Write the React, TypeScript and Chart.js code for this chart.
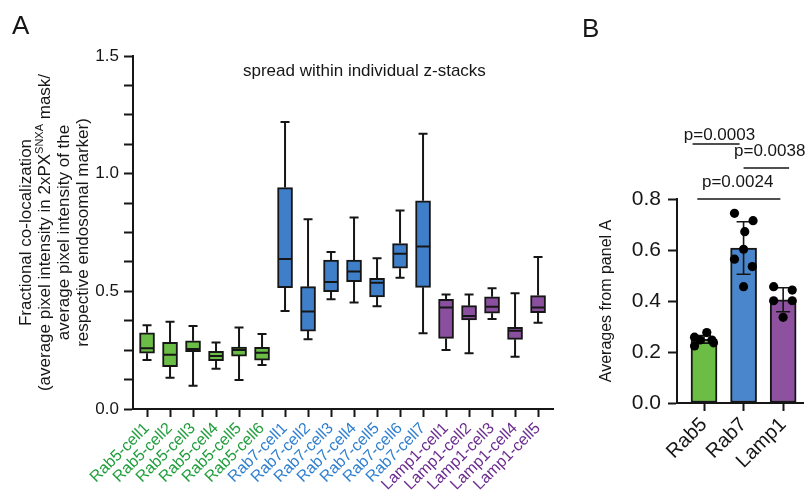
import React, { useEffect, useRef } from 'react';
import { Chart, registerables } from 'chart.js';
Chart.register(...registerables);

const FONT = '"Liberation Sans", Arial, Helvetica, sans-serif';
const INK = '#161616';

// ---------- Panel A data ----------
const cellLabels = [
  'Rab5-cell1', 'Rab5-cell2', 'Rab5-cell3', 'Rab5-cell4', 'Rab5-cell5', 'Rab5-cell6',
  'Rab7-cell1', 'Rab7-cell2', 'Rab7-cell3', 'Rab7-cell4', 'Rab7-cell5', 'Rab7-cell6', 'Rab7-cell7',
  'Lamp1-cell1', 'Lamp1-cell2', 'Lamp1-cell3', 'Lamp1-cell4', 'Lamp1-cell5',
];
const cellGroup = [
  'Rab5', 'Rab5', 'Rab5', 'Rab5', 'Rab5', 'Rab5',
  'Rab7', 'Rab7', 'Rab7', 'Rab7', 'Rab7', 'Rab7', 'Rab7',
  'Lamp1', 'Lamp1', 'Lamp1', 'Lamp1', 'Lamp1',
];
const whiskerMin = [0.208, 0.133, 0.099, 0.171, 0.123, 0.187, 0.416, 0.296, 0.466, 0.453, 0.437, 0.558, 0.322, 0.251, 0.237, 0.382, 0.222, 0.367];
const boxQ1 = [0.237, 0.180, 0.244, 0.205, 0.225, 0.208, 0.516, 0.331, 0.499, 0.541, 0.476, 0.598, 0.517, 0.300, 0.378, 0.407, 0.296, 0.409];
const boxMedian = [0.258, 0.231, 0.255, 0.225, 0.251, 0.239, 0.637, 0.414, 0.540, 0.584, 0.537, 0.660, 0.690, 0.431, 0.395, 0.435, 0.333, 0.431];
const boxQ3 = [0.324, 0.283, 0.290, 0.245, 0.263, 0.262, 0.941, 0.520, 0.633, 0.633, 0.555, 0.703, 0.885, 0.466, 0.439, 0.477, 0.347, 0.482];
const whiskerMax = [0.356, 0.371, 0.353, 0.283, 0.346, 0.319, 1.220, 0.806, 0.667, 0.814, 0.641, 0.843, 1.170, 0.487, 0.487, 0.513, 0.492, 0.646];
const yTicksA = [0, 0.125, 0.25, 0.375, 0.5, 0.625, 0.75, 0.875, 1.0, 1.125, 1.25, 1.375, 1.5];
const panelATitle = 'spread within individual z-stacks';
const yTitleA1 = 'Fractional co-localization';
const yTitleA2pre = '(average pixel intensity in 2xPX';
const yTitleA2sup = 'SNXA';
const yTitleA2post = ' mask/';
const yTitleA3 = 'average pixel intensity of the';
const yTitleA4 = 'respective endosomal marker)';

// ---------- Panel B data ----------
const groupLabels = ['Rab5', 'Rab7', 'Lamp1'];
const groupMeans = [0.250, 0.608, 0.405];
const groupSD = [0.015, 0.103, 0.047];
const rab5Dots = [0.258, 0.224, 0.247, 0.276, 0.247, 0.236];
const rab5Jitter = [-0.24, -0.24, -0.1, 0.07, 0.2, 0.24];
const rab7Dots = [0.744, 0.715, 0.672, 0.603, 0.564, 0.535, 0.456];
const rab7Jitter = [-0.23, 0.24, 0.03, 0.0, -0.23, 0.22, 0.0];
const lamp1Dots = [0.456, 0.443, 0.401, 0.401, 0.336];
const lamp1Jitter = [-0.24, 0.23, -0.24, 0.23, 0.0];
const yTicksB = [0, 0.2, 0.4, 0.6, 0.8];
const yTitleB = 'Averages from panel A';
const compLabels = ['p=0.0003', 'p=0.0038', 'p=0.0024'];
const compFromX = [-0.29, 1.0, -0.17];
const compToX = [0.9, 2.15, 1.93];
const compLineY = [1.016, 0.922, 0.8];
const compTextX = [0.39, 1.66, 0.85];
const compTextY = [1.031, 0.969, 0.847];

const fillColor: Record<string, string> = { Rab5: '#6abd45', Rab7: '#3f7ec8', Lamp1: '#8b4f9f' };
const barColor: Record<string, string> = { Rab5: '#6cbd45', Rab7: '#4a86cc', Lamp1: '#8d51a0' };
const textColor: Record<string, string> = { Rab5: '#1f9e3b', Rab7: '#2f7fd0', Lamp1: '#6b2d90' };

const boxPlugin = {
  id: 'boxExtras',
  afterDatasetsDraw(chart: any) {
    const ctx = chart.ctx;
    const xs = chart.scales.x;
    const ys = chart.scales.y;
    ctx.save();
    ctx.strokeStyle = INK;
    ctx.lineWidth = 2;
    for (let i = 0; i < cellLabels.length; i++) {
      const x = xs.getPixelForValue(i);
      const yMax = ys.getPixelForValue(whiskerMax[i]);
      const yQ3 = ys.getPixelForValue(boxQ3[i]);
      const yQ1 = ys.getPixelForValue(boxQ1[i]);
      const yMin = ys.getPixelForValue(whiskerMin[i]);
      const yMed = ys.getPixelForValue(boxMedian[i]);
      ctx.beginPath();
      ctx.moveTo(x, yQ3); ctx.lineTo(x, yMax);
      ctx.moveTo(x - 4.5, yMax); ctx.lineTo(x + 4.5, yMax);
      ctx.moveTo(x, yQ1); ctx.lineTo(x, yMin);
      ctx.moveTo(x - 4.5, yMin); ctx.lineTo(x + 4.5, yMin);
      ctx.moveTo(x - 7, yMed); ctx.lineTo(x + 7, yMed);
      ctx.stroke();
    }
    // title inside plot
    ctx.fillStyle = INK;
    ctx.font = `17px ${FONT}`;
    ctx.textAlign = 'left';
    ctx.textBaseline = 'alphabetic';
    ctx.fillText(panelATitle, 243, 76);
    // panel letter
    ctx.font = `26px ${FONT}`;
    ctx.fillText('A', 12, 34);
    // y title
    const cy = (chart.chartArea.top + chart.chartArea.bottom) / 2;
    const main = `17px ${FONT}`;
    const sup = `11px ${FONT}`;
    const drawLine = (bx: number, txt: string) => {
      ctx.save();
      ctx.translate(bx, cy);
      ctx.rotate(-Math.PI / 2);
      ctx.font = main;
      ctx.textAlign = 'center';
      ctx.fillText(txt, 0, 0);
      ctx.restore();
    };
    drawLine(31, yTitleA1);
    ctx.save();
    ctx.translate(50, cy);
    ctx.rotate(-Math.PI / 2);
    ctx.textAlign = 'left';
    ctx.font = main;
    const w1 = ctx.measureText(yTitleA2pre).width;
    const w3 = ctx.measureText(yTitleA2post).width;
    ctx.font = sup;
    const w2 = ctx.measureText(yTitleA2sup).width;
    let sx = -(w1 + w2 + w3) / 2;
    ctx.font = main;
    ctx.fillText(yTitleA2pre, sx, 0);
    sx += w1;
    ctx.font = sup;
    ctx.fillText(yTitleA2sup, sx, -7);
    sx += w2;
    ctx.font = main;
    ctx.fillText(yTitleA2post, sx, 0);
    ctx.restore();
    drawLine(69, yTitleA3);
    drawLine(88, yTitleA4);
    ctx.restore();
  },
};

const barExtras = {
  id: 'barExtras',
  afterDatasetDraw(chart: any, args: any) {
    if (args.index !== 0) return;
    const ctx = chart.ctx;
    const xs = chart.scales.x;
    const ys = chart.scales.y;
    ctx.save();
    ctx.strokeStyle = INK;
    ctx.lineWidth = 1.6;
    for (let i = 0; i < groupLabels.length; i++) {
      const x = xs.getPixelForValue(i);
      const yt = ys.getPixelForValue(groupMeans[i] + groupSD[i]);
      const yb = ys.getPixelForValue(groupMeans[i] - groupSD[i]);
      ctx.beginPath();
      ctx.moveTo(x, yt); ctx.lineTo(x, yb);
      ctx.moveTo(x - 7, yt); ctx.lineTo(x + 7, yt);
      ctx.moveTo(x - 7, yb); ctx.lineTo(x + 7, yb);
      ctx.stroke();
    }
    ctx.restore();
  },
  afterDraw(chart: any) {
    const ctx = chart.ctx;
    const xs = chart.scales.x;
    const ys = chart.scales.y;
    ctx.save();
    ctx.strokeStyle = INK;
    ctx.fillStyle = INK;
    ctx.lineWidth = 1.5;
    ctx.font = `17px ${FONT}`;
    ctx.textAlign = 'center';
    ctx.textBaseline = 'alphabetic';
    for (let i = 0; i < compLabels.length; i++) {
      const y = ys.getPixelForValue(compLineY[i]);
      ctx.beginPath();
      ctx.moveTo(xs.getPixelForValue(compFromX[i]), y);
      ctx.lineTo(xs.getPixelForValue(compToX[i]), y);
      ctx.stroke();
      ctx.fillText(compLabels[i], xs.getPixelForValue(compTextX[i]), ys.getPixelForValue(compTextY[i]));
    }
    ctx.textAlign = 'left';
    ctx.font = `26px ${FONT}`;
    ctx.fillText('B', 12, 37);
    ctx.restore();
  },
};

function cfgA(): any {
  return {
    type: 'bar',
    data: {
      datasets: [{
        data: cellLabels.map((_, i) => ({ x: i, y: [boxQ1[i], boxQ3[i]] })),
        backgroundColor: cellGroup.map((g) => fillColor[g]),
        borderColor: INK,
        borderWidth: 2,
        borderSkipped: false,
        barThickness: 15,
      }],
    },
    options: {
      animation: false,
      responsive: false,
      devicePixelRatio: 1,
      layout: { padding: { left: 0, top: 56, right: 17, bottom: 0 } },
      plugins: { legend: { display: false }, tooltip: { enabled: false } },
      scales: {
        x: {
          type: 'linear', min: -0.61, max: 17.65, offset: false,
          afterBuildTicks: (s: any) => { s.ticks = cellLabels.map((_, i) => ({ value: i })); },
          afterFit: (s: any) => { s.height = 93; s.paddingLeft = 0; s.paddingRight = 0; },
          ticks: {
            autoSkip: false, maxRotation: 45, minRotation: 45, padding: 2,
            callback: (v: number) => cellLabels[v] ?? '',
            color: (c: any) => textColor[cellGroup[c.index]] || INK,
            font: { family: FONT, size: 16 },
          },
          grid: { offset: false, drawOnChartArea: false, drawTicks: true, tickLength: 8, tickWidth: 2, tickColor: INK },
          border: { display: true, color: INK, width: 2 },
        },
        y: {
          type: 'linear', min: 0, max: 1.5,
          afterBuildTicks: (s: any) => { s.ticks = yTicksA.map((v) => ({ value: v })); },
          afterFit: (s: any) => { s.width = 133; },
          ticks: {
            autoSkip: false, padding: 5,
            callback: (v: number) => (Math.abs(v * 2 - Math.round(v * 2)) < 1e-6 ? v.toFixed(1) : ''),
            color: INK,
            font: { family: FONT, size: 17 },
          },
          grid: { drawOnChartArea: false, drawTicks: true, tickLength: 9, tickWidth: 2, tickColor: INK },
          border: { display: true, color: INK, width: 2 },
        },
      },
    },
    plugins: [boxPlugin],
  };
}

function cfgB(): any {
  const dots: any[] = [];
  [[rab5Dots, rab5Jitter], [rab7Dots, rab7Jitter], [lamp1Dots, lamp1Jitter]].forEach(([vals, jit], g) => {
    vals.forEach((v: number, k: number) => dots.push({ x: g + jit[k], y: v }));
  });
  return {
    type: 'bar',
    data: {
      datasets: [
        {
          type: 'bar',
          order: 2,
          data: groupLabels.map((_, i) => ({ x: i, y: groupMeans[i] })),
          backgroundColor: groupLabels.map((g) => barColor[g]),
          borderColor: INK,
          borderWidth: 2,
          borderSkipped: false,
          barThickness: 26,
        },
        {
          type: 'scatter',
          order: 1,
          data: dots,
          pointRadius: 4.6,
          backgroundColor: '#000',
          borderWidth: 0,
          clip: false,
        },
      ],
    },
    options: {
      animation: false,
      responsive: false,
      devicePixelRatio: 1,
      layout: { padding: { left: 0, top: 199, right: 0, bottom: 0 } },
      plugins: { legend: { display: false }, tooltip: { enabled: false } },
      scales: {
        x: {
          type: 'linear', min: -0.683, max: 2.512, offset: false,
          afterBuildTicks: (s: any) => { s.ticks = groupLabels.map((_, i) => ({ value: i })); },
          afterFit: (s: any) => { s.height = 99; s.paddingLeft = 0; s.paddingRight = 0; },
          ticks: {
            autoSkip: false, maxRotation: 45, minRotation: 45, padding: 2,
            callback: (v: number) => groupLabels[v] ?? '',
            color: INK,
            font: { family: FONT, size: 20 },
          },
          grid: { offset: false, drawOnChartArea: false, drawTicks: true, tickLength: 8, tickWidth: 2, tickColor: INK },
          border: { display: true, color: INK, width: 2 },
        },
        y: {
          type: 'linear', min: 0, max: 0.8,
          afterBuildTicks: (s: any) => { s.ticks = yTicksB.map((v) => ({ value: v })); },
          afterFit: (s: any) => { s.width = 107; },
          title: { display: true, text: yTitleB, color: INK, font: { family: FONT, size: 16 }, padding: { top: 27, bottom: 0 } },
          ticks: {
            autoSkip: false, padding: 7,
            callback: (v: number) => v.toFixed(1),
            color: INK,
            font: { family: FONT, size: 21 },
          },
          grid: { drawOnChartArea: false, drawTicks: true, tickLength: 9, tickWidth: 2, tickColor: INK },
          border: { display: true, color: INK, width: 2 },
        },
      },
    },
    plugins: [barExtras],
  };
}

export default function App() {
  const refA = useRef<HTMLCanvasElement>(null);
  const refB = useRef<HTMLCanvasElement>(null);
  useEffect(() => {
    const a = new Chart(refA.current as HTMLCanvasElement, cfgA());
    const b = new Chart(refB.current as HTMLCanvasElement, cfgB());
    return () => { a.destroy(); b.destroy(); };
  }, []);
  return (
    <div style={{ position: 'absolute', left: 0, top: 0, width: 808, height: 502, overflow: 'hidden', background: '#fff' }}>
      <canvas ref={refA} width={570} height={502} style={{ position: 'absolute', left: 0, top: 0, width: 570, height: 502 }} />
      <canvas ref={refB} width={238} height={502} style={{ position: 'absolute', left: 570, top: 0, width: 238, height: 502 }} />
    </div>
  );
}
